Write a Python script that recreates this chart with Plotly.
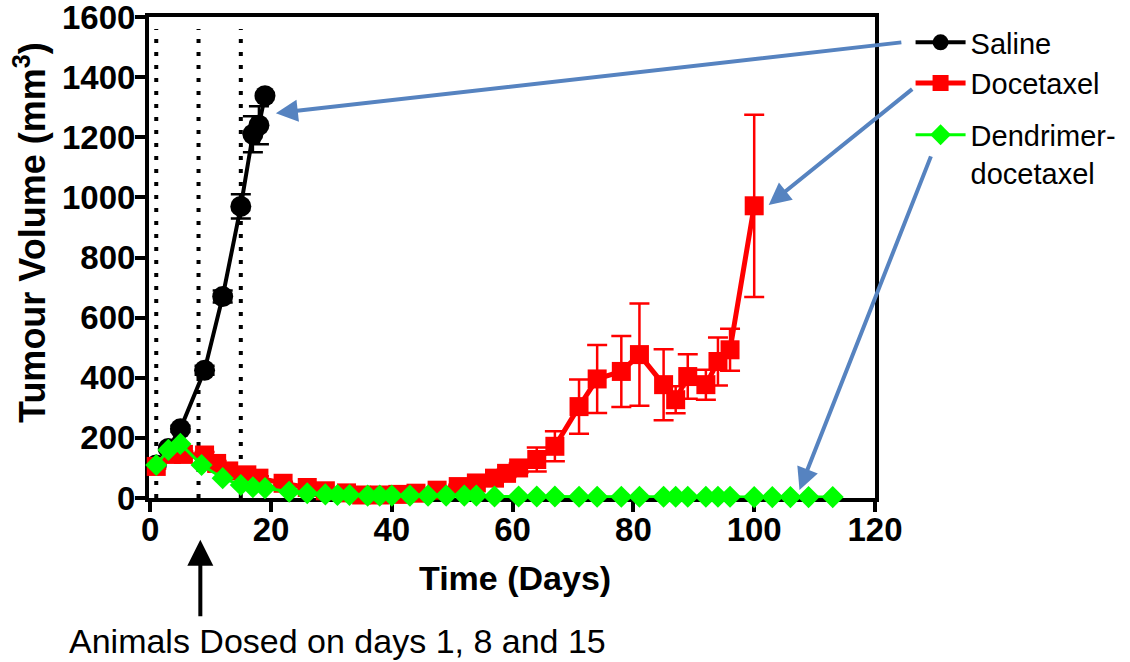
import plotly.graph_objects as go

# ---------------- data ----------------
saline_days = [1, 3, 5, 9, 12, 15, 17, 18, 19]
saline_vol = [110, 165, 230, 425, 670, 970, 1210, 1240, 1338]
saline_err = [5, 8, 10, 15, 20, 40, 60, 63, 0]

doce_days = [1, 3.5, 5.5, 9, 11, 13, 16, 18, 22, 26, 29, 32.5, 35, 38, 41, 44, 47.5, 51, 54,
             57, 59, 61, 64, 67, 71, 74, 78, 81, 85, 87, 89, 92, 94, 96, 100]
doce_vol = [105, 145, 145, 143, 115, 90, 77, 66, 49, 35, 24, 17, 10, 10, 12, 16, 26, 38, 50,
            66, 82, 100, 128, 172, 304, 396, 421, 477, 377, 327, 404, 377, 454, 493, 972]
doce_err = [8, 10, 10, 10, 8, 8, 6, 6, 5, 5, 4, 4, 3, 3, 3, 4, 5, 6, 8,
            10, 12, 15, 40, 50, 90, 113, 118, 170, 118, 45, 74, 50, 80, 70, 303]

dend_days = [1, 3, 5, 8.5, 12, 15, 17, 19, 23, 26, 29, 31, 33, 36, 38, 40, 43, 46, 49, 52, 54,
             57, 61, 64, 67, 71, 74, 78, 81, 85, 87, 89, 92, 94, 96, 100, 103, 106, 109, 113]
dend_vol = [110, 160, 180, 110, 66, 43, 36, 33, 21, 16, 12, 10, 10, 8, 8, 8, 8, 8, 8, 8, 8,
            5, 5, 5, 5, 4, 4, 4, 4, 4, 4, 4, 4, 4, 4, 3, 3, 3, 3, 3]

dose_days = [1, 8, 15]
x_ticks = [0, 20, 40, 60, 80, 100, 120]
y_ticks = [0, 200, 400, 600, 800, 1000, 1200, 1400, 1600]

FONT = "Arial, Liberation Sans, sans-serif"
BLUE = "#5683c0"

fig = go.Figure()

fig.add_trace(go.Scatter(
    x=saline_days, y=saline_vol, name="Saline", mode="lines+markers",
    line=dict(color="black", width=4),
    marker=dict(symbol="circle", size=21, color="black"),
    error_y=dict(type="data", array=saline_err, color="black", thickness=2.5, width=10),
    cliponaxis=False, legendgroup="a"))

fig.add_trace(go.Scatter(
    x=doce_days, y=doce_vol, name="Docetaxel", mode="lines+markers",
    line=dict(color="#ff0000", width=5),
    marker=dict(symbol="square", size=19, color="#ff0000"),
    error_y=dict(type="data", array=doce_err, color="#ff0000", thickness=2.5, width=10),
    cliponaxis=False, legendgroup="a"))

fig.add_trace(go.Scatter(
    x=dend_days, y=dend_vol, name="Dendrimer-<br>docetaxel", mode="lines+markers",
    line=dict(color="#00ff00", width=3),
    marker=dict(symbol="diamond", size=17, color="#00ff00"),
    cliponaxis=False, legendgroup="c"))

# dotted dosing lines
for d in dose_days:
    fig.add_shape(type="line", xref="x", yref="y", x0=d, x1=d, y0=0, y1=1560,
                  line=dict(color="black", width=4, dash="4px,9px"), layer="below")

annotations = []
# blue arrows from legend to series ends
annotations.append(dict(x=saline_days[-1] + 1.8, y=1280, xref="x", yref="y", ax=627, ay=-71,
                        axref="pixel", ayref="pixel", text="", showarrow=True,
                        arrowhead=2, arrowsize=1.1, arrowwidth=4, arrowcolor=BLUE))
annotations.append(dict(x=doce_days[-1] + 2.4, y=975, xref="x", yref="y", ax=145, ay=-117,
                        axref="pixel", ayref="pixel", text="", showarrow=True,
                        arrowhead=2, arrowsize=1.1, arrowwidth=4, arrowcolor=BLUE))
annotations.append(dict(x=107.5, y=27, xref="x", yref="y", ax=132, ay=-335,
                        axref="pixel", ayref="pixel", text="", showarrow=True,
                        arrowhead=2, arrowsize=1.1, arrowwidth=4, arrowcolor=BLUE))
# black dosing arrow
annotations.append(dict(x=8.3, y=-0.087, xref="x", yref="paper", ax=0, ay=78,
                        axref="pixel", ayref="pixel", text="", showarrow=True,
                        arrowhead=2, arrowsize=1.3, arrowwidth=4, arrowcolor="black"))
annotations.append(dict(x=31.0, y=-0.297, xref="x", yref="paper", showarrow=False,
                        text="Animals Dosed on days 1, 8 and 15",
                        font=dict(family=FONT, size=34, color="black"),
                        xanchor="center", yanchor="middle"))
# axis titles
annotations.append(dict(x=-0.164, y=0.553, xref="paper", yref="paper", showarrow=False,
                        text="<b>Tumour Volume (mm<sup>3</sup>)</b>", textangle=-90,
                        font=dict(family=FONT, size=36, color="black"),
                        xanchor="center", yanchor="middle"))
annotations.append(dict(x=0.504, y=-0.166, xref="paper", yref="paper", showarrow=False,
                        text="<b>Time (Days)</b>",
                        font=dict(family=FONT, size=34, color="black"),
                        xanchor="center", yanchor="middle"))

fig.update_layout(
    width=1130, height=662,
    margin=dict(l=149, r=255, t=17, b=164, autoexpand=False),
    paper_bgcolor="white", plot_bgcolor="white",
    font=dict(family=FONT, color="black"),
    showlegend=True,
    legend=dict(x=1.049, y=1.0, xanchor="left", yanchor="top",
                font=dict(family=FONT, size=29, color="black"),
                bgcolor="rgba(0,0,0,0)", itemwidth=50, valign="top",
                tracegroupgap=11),
    annotations=annotations,
)

fig.update_xaxes(
    range=[-0.2, 120], tickvals=x_ticks, ticktext=[str(v) for v in x_ticks],
    showgrid=False, zeroline=False, showline=True, linewidth=4, linecolor="black",
    mirror=True, ticks="outside", ticklen=10, tickwidth=4, tickcolor="black",
    tickfont=dict(family=FONT, size=33, color="black", weight="bold"),
    ticklabelstandoff=-11, ticklabeloverflow="allow",
    automargin=False, layer="below traces")

fig.update_yaxes(
    range=[0, 1600], tickvals=y_ticks, ticktext=[str(v) for v in y_ticks],
    showgrid=False, zeroline=False, showline=True, linewidth=4, linecolor="black",
    mirror=True, ticks="outside", ticklen=10, tickwidth=4, tickcolor="black",
    tickfont=dict(family=FONT, size=33, color="black", weight="bold"),
    ticklabelstandoff=-7, ticklabeloverflow="allow",
    automargin=False, layer="below traces")

fig.write_html("out.html", config={"displayModeBar": False},
               post_script="document.body.style.margin='0';document.body.style.overflow='hidden';")
